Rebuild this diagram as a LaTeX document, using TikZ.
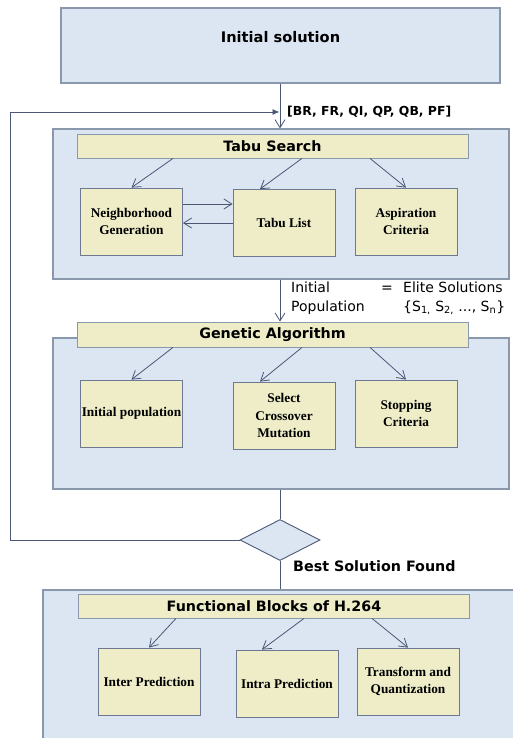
\documentclass[tikz,border=0pt]{standalone}
\usepackage{fontspec}
\setmainfont{Liberation Serif}
\setsansfont{DejaVu Sans}
\usetikzlibrary{shapes.geometric,arrows.meta}
\definecolor{paleblue}{HTML}{DCE6F2}
\definecolor{paleyellow}{HTML}{EEEDC8}
\definecolor{edgegray}{HTML}{8A98AC}
\definecolor{linkblue}{HTML}{4A5876}
\tikzstyle{outer}=[draw=edgegray, fill=paleblue, line width=1.2pt, inner sep=0pt]
\tikzstyle{titlebar}=[draw=edgegray, fill=paleyellow, line width=0.8pt, minimum width=391pt, minimum height=24pt, inner sep=0pt, font=\sffamily\bfseries\fontsize{14.3}{16}\selectfont]
\tikzstyle{block}=[draw=linkblue!80, fill=paleyellow, line width=0.8pt, minimum width=102pt, minimum height=67pt, align=center, inner sep=0pt, font=\bfseries\fontsize{13.3}{17.5}\selectfont]
\tikzstyle{link}=[draw=linkblue, line width=0.8pt, -{Straight Barb[length=8pt,width=10pt]}]
\tikzstyle{wire}=[draw=linkblue, line width=0.9pt]
\tikzstyle{note}=[anchor=west, align=left, inner sep=0pt, font=\sffamily\fontsize{14}{19}\selectfont]
\tikzstyle{boldnote}=[anchor=west, inner sep=0pt, font=\sffamily\bfseries\fontsize{14.3}{16}\selectfont]

\begin{document}
\begin{tikzpicture}[x=1pt,y=-1pt]
    \useasboundingbox (0,0) rectangle (513,738);
    \clip (0,0) rectangle (513,738);

    % start
    \node[outer, minimum width=439pt, minimum height=75pt] (init) at (280.5,45.5) {};
    \node[font=\sffamily\bfseries\fontsize{14.6}{16}\selectfont] (initlabel) at (280.5,37) {Initial solution};

    % tabu search
    \node[outer, minimum width=456pt, minimum height=150pt] (tabu) at (281,204) {};
    \node[titlebar] (ts) at (272.5,146) {Tabu Search};
    \begin{scope}[every node/.style={block}]
        \node (ng) at (131.5,221.5) {Neighborhood\\Generation};
        \node (tl) at (284,223) {Tabu List};
        \node (ac) at (406,221.5) {Aspiration\\Criteria};
    \end{scope}

    % genetic algorithm
    \node[outer, minimum width=456pt, minimum height=151pt] (ga) at (281,413.5) {};
    \node[titlebar, minimum height=25pt] (gt) at (272.5,334.5) {Genetic Algorithm};
    \begin{scope}[every node/.style={block}]
        \node (ip) at (131.5,413.5) {Initial population};
        \node (sc) at (284,415.5) {Select\\Crossover\\Mutation};
        \node (stc) at (406,413.5) {Stopping\\Criteria};
    \end{scope}

    % decision
    \node[diamond, draw=linkblue, fill=paleblue, line width=0.9pt, minimum width=80pt, minimum height=41pt, inner sep=0pt] (dec) at (280,540) {};

    % h.264
    \node[outer, minimum width=490pt, minimum height=160pt] (fb) at (288,670) {};
    \node[titlebar] (ft) at (274,606) {Functional Blocks of H.264};
    \begin{scope}[every node/.style={block}]
        \node (inter) at (149,681.5) {Inter Prediction};
        \node (intra) at (287,683.5) {Intra Prediction};
        \node (tq) at (408,681.5) {Transform and\\Quantization};
    \end{scope}

    % labels
    \node[boldnote, font=\sffamily\bfseries\fontsize{12.4}{16}\selectfont] (params) at (287,112) {[BR, FR, QI, QP, QB, PF]};
    \node[note] (pop) at (291,298.5) {Initial\\Population};
    \node[note] (eq) at (381,289) {=};
    \node[note] (elite) at (403,298.5) {Elite Solutions\\\{S\textsubscript{1,} S\textsubscript{2,} ..., S\textsubscript{n}\}};
    \node[boldnote] (best) at (293,566) {Best Solution Found};

    % main flow
    \coordinate (corner) at (10,112);
    \coordinate (merge) at (279.5,112);
    \draw[link] (init.south -| dec.north) -- (tabu.north -| dec.north);
    \draw[wire, -{Latex[length=7pt,width=6pt]}] (dec.west) -| (corner) -- (merge);
    \draw[link] (tabu.south -| dec.north) -- (gt.north -| dec.north);
    \draw[wire] (ga.south -| dec.north) -- (dec.north);
    \draw[wire] (dec.south) -- (dec.south |- fb.north);

    % inside the blocks
    \begin{scope}[every path/.style={link}]
        \draw ([xshift=-99.5pt]ts.south) -- (ng.north);
        \draw ([xshift=29.5pt]ts.south) -- ([xshift=-24pt]tl.north);
        \draw ([xshift=97.5pt]ts.south) -- (ac.north);
        \draw ([yshift=17.5pt]ng.east) -- ([yshift=17.5pt]ng.east -| tl.west);
        \draw (tl.west) -- (tl.west -| ng.east);
        \draw ([xshift=-99.5pt]gt.south) -- (ip.north);
        \draw ([xshift=29.5pt]gt.south) -- ([xshift=-24pt]sc.north);
        \draw ([xshift=97.5pt]gt.south) -- (stc.north);
        \draw ([xshift=-98pt]ft.south) -- (inter.north);
        \draw ([xshift=30pt]ft.south) -- ([xshift=-25pt]intra.north);
        \draw ([xshift=98pt]ft.south) -- (tq.north);
    \end{scope}
\end{tikzpicture}
\end{document}
